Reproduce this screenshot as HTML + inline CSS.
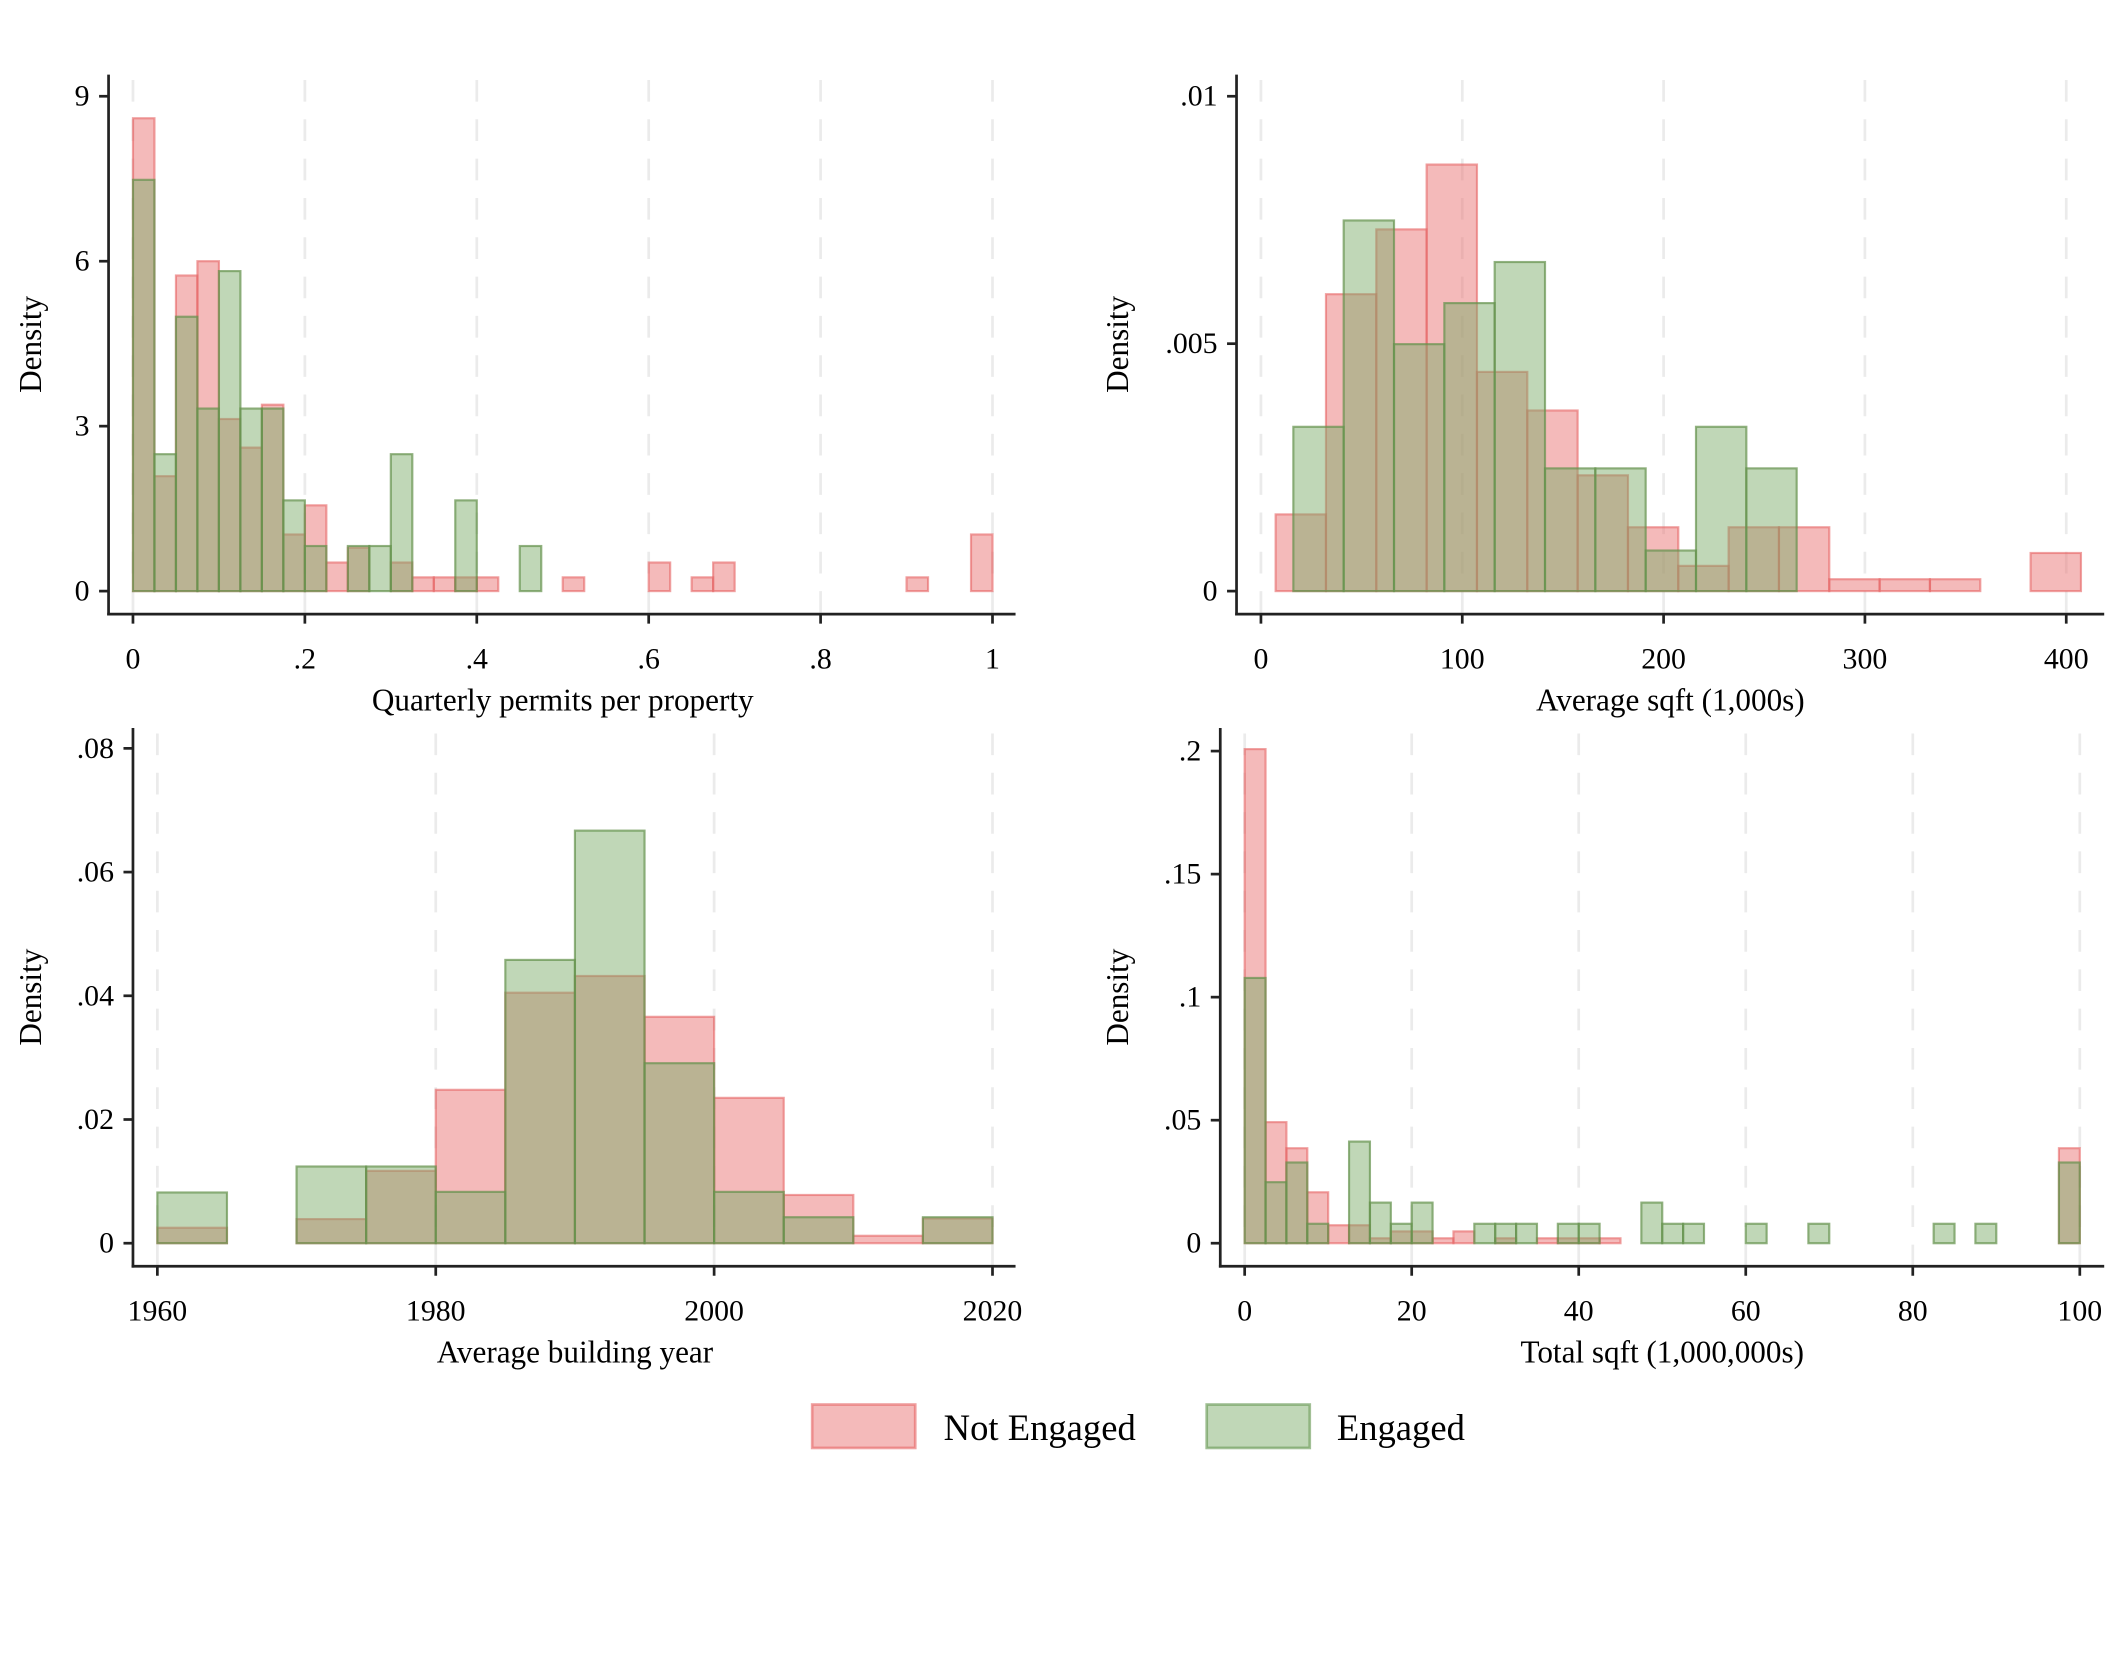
<!DOCTYPE html>
<html><head><meta charset="utf-8"><style>
html,body{margin:0;padding:0;background:#fff;}
svg{display:block;font-family:"Liberation Serif",serif;}
</style></head><body>
<svg id="chart" width="2126" height="1654" viewBox="0 0 1568 1220" xmlns="http://www.w3.org/2000/svg">
<rect x="0" y="0" width="1568" height="1220" fill="#fff"/>
<g>
<rect x="599" y="1036" width="76" height="32" fill="rgba(232,110,110,0.48)" stroke="rgba(230,100,100,0.6)" stroke-width="2"/>
<text x="696" y="1062" font-size="27">Not Engaged</text>
<rect x="890" y="1036" width="76" height="32" fill="rgba(124,172,105,0.48)" stroke="rgba(100,150,80,0.6)" stroke-width="2"/>
<text x="986" y="1062" font-size="27">Engaged</text>
</g>
</svg>
<script>
// Panel 1: Quarterly permits per property (bins start 0, width 0.025)
const p1Red = [8.6,2.09,5.74,6.0,3.13,2.61,3.39,1.03,1.56,0.52,0.79,0,0.52,0.25,0.25,0.25,0.25,0,0,0,0.25,0,0,0,0.52,0,0.25,0.52,0,0,0,0,0,0,0,0,0.25,0,0,1.03];
const p1Green = [7.48,2.49,4.99,3.32,5.82,3.32,3.32,1.65,0.82,0,0.82,0.82,2.49,0,0,1.65,0,0,0.82];
const p1XTicks = [0,0.2,0.4,0.6,0.8,1];
const p1XLabels = ["0",".2",".4",".6",".8","1"];
const p1YTicks = [0,3,6,9];
const p1YLabels = ["0","3","6","9"];
// Panel 2: Average sqft
const p2Red = [0.00155,0.0060,0.00731,0.00862,0.00443,0.00365,0.00234,0.00129,0.00051,0.00129,0.00129,0.00024,0.00024,0.00024,0,0.00077];
const p2Green = [0.00332,0.00749,0.00499,0.00582,0.00665,0.00248,0.00248,0.00082,0.00332,0.00248];
const p2XTicks = [0,100,200,300,400];
const p2XLabels = ["0","100","200","300","400"];
const p2YTicks = [0,0.005,0.01];
const p2YLabels = ["0",".005",".01"];
// Panel 3: Average building year (bins start 1960, width 5)
const p3Red = [0.0025,0,0.0039,0.0117,0.0248,0.0405,0.0432,0.0366,0.0235,0.0078,0.0012,0.004];
const p3Green = [0.0082,0,0.0124,0.0124,0.0083,0.0458,0.0667,0.0291,0.0083,0.0042,0,0.0042];
const p3XTicks = [1960,1980,2000,2020];
const p3XLabels = ["1960","1980","2000","2020"];
const p3YTicks = [0,0.02,0.04,0.06,0.08];
const p3YLabels = ["0",".02",".04",".06",".08"];
// Panel 4: Total sqft (bins start 0, width 2.5)
const p4Red = [0.2008,0.0492,0.0386,0.0207,0.0073,0.0073,0.002,0.0048,0.0048,0.002,0.0048,0,0.002,0,0.002,0.002,0.002,0.002,0,0,0,0,0,0,0,0,0,0,0,0,0,0,0,0,0,0,0,0,0,0.0386];
const p4Green = [0.1078,0.0248,0.0328,0.0079,0,0.0413,0.0165,0.0079,0.0165,0,0,0.0079,0.0079,0.0079,0,0.0079,0.0079,0,0,0.0165,0.0079,0.0079,0,0,0.0079,0,0,0.0079,0,0,0,0,0,0.0079,0,0.0079,0,0,0,0.0328];
const p4XTicks = [0,20,40,60,80,100];
const p4XLabels = ["0","20","40","60","80","100"];
const p4YTicks = [0,0.05,0.1,0.15,0.2];
const p4YLabels = ["0",".05",".1",".15",".2"];

const NS="http://www.w3.org/2000/svg";
const svg=document.getElementById('chart');
function mk(tag,attrs,parent){const e=document.createElementNS(NS,tag);for(const k in attrs)e.setAttribute(k,attrs[k]);parent.appendChild(e);return e;}

function panel(cfg){
  const g=mk('g',{},svg);
  
  
  const sx=v=>cfg.px0+(v-cfg.xv0)*(cfg.px1-cfg.px0)/(cfg.xv1-cfg.xv0);
  const sy=v=>cfg.py0+(v-0)*(cfg.py1-cfg.py0)/(cfg.yv1);
  cfg.xt.forEach((t,i)=>{
    const l=mk('line',{x1:sx(t),x2:sx(t),y1:cfg.top+4,y2:cfg.axisY,stroke:'#ebebeb','stroke-width':2,'stroke-dasharray':'16,13'},g);
    
    
  });
  function series(vals,start,w,fill,stroke,nm){
    vals.forEach((v,i)=>{
      if(v<=0)return;
      const x0=sx(start+i*w),x1=sx(start+(i+1)*w);
      const r=mk('rect',{x:x0,y:sy(v),width:x1-x0,height:sy(0)-sy(v),fill:fill,stroke:stroke,'stroke-width':1.6},g);
      
      
    });
  }
  series(cfg.red,cfg.rs,cfg.w,'rgba(232,110,110,0.48)','rgba(230,100,100,0.6)','not-engaged');
  series(cfg.green,cfg.gs,cfg.w,'rgba(124,172,105,0.48)','rgba(100,145,75,0.7)','engaged');
  const ya=mk('line',{x1:cfg.axisX,x2:cfg.axisX,y1:cfg.top,y2:cfg.axisY+1,stroke:'#222','stroke-width':2},g);
  
  
  const xa=mk('line',{x1:cfg.axisX-1,x2:cfg.right,y1:cfg.axisY,y2:cfg.axisY,stroke:'#222','stroke-width':2},g);
  
  
  cfg.xt.forEach((t,i)=>{
    mk('line',{x1:sx(t),x2:sx(t),y1:cfg.axisY,y2:cfg.axisY+7,stroke:'#222','stroke-width':2},g);
    const tx=mk('text',{x:sx(t),y:cfg.axisY+40,'font-size':22,'text-anchor':'middle'},g);
    tx.textContent=cfg.xl[i];
    
    
  });
  cfg.yt.forEach((t,i)=>{
    mk('line',{x1:cfg.axisX-7,x2:cfg.axisX,y1:sy(t),y2:sy(t),stroke:'#222','stroke-width':2},g);
    const tx=mk('text',{x:cfg.axisX-14,y:sy(t)+7,'font-size':22,'text-anchor':'end'},g);
    tx.textContent=cfg.yl[i];
    
    
  });
  const xt=mk('text',{x:cfg.xtitleX,y:cfg.axisY+71,'font-size':23,'text-anchor':'middle'},g);
  xt.textContent=cfg.xtitle;
  
  
  const cy=(cfg.top+cfg.axisY)/2;
  const yt=mk('text',{x:cfg.ytitleX,y:cy,'font-size':23,'text-anchor':'middle',transform:`rotate(-90 ${cfg.ytitleX} ${cy})`},g);
  yt.textContent='Density';
  
  
}

panel({name:'panel-permits',px0:98,px1:732,xv0:0,xv1:1,py0:436,py1:71,yv1:9,top:55,axisY:453,axisX:80,right:749,
  red:p1Red,green:p1Green,rs:0,gs:0,w:0.025,xt:p1XTicks,xl:p1XLabels,yt:p1YTicks,yl:p1YLabels,
  xtitle:'Quarterly permits per property',xtitleX:415,ytitleX:30});
panel({name:'panel-avg-sqft',px0:930,px1:1524,xv0:0,xv1:400,py0:436,py1:71,yv1:0.01,top:55,axisY:453,axisX:912,right:1552,
  red:p2Red,green:p2Green,rs:7.3,gs:16.1,w:25,xt:p2XTicks,xl:p2XLabels,yt:p2YTicks,yl:p2YLabels,
  xtitle:'Average sqft (1,000s)',xtitleX:1232,ytitleX:832});
panel({name:'panel-building-year',px0:116,px1:732,xv0:1960,xv1:2020,py0:917,py1:552,yv1:0.08,top:537,axisY:934,axisX:98,right:749,
  red:p3Red,green:p3Green,rs:1960,gs:1960,w:5,xt:p3XTicks,xl:p3XLabels,yt:p3YTicks,yl:p3YLabels,
  xtitle:'Average building year',xtitleX:424,ytitleX:30});
panel({name:'panel-total-sqft',px0:918,px1:1534,xv0:0,xv1:100,py0:917,py1:554,yv1:0.2,top:537,axisY:934,axisX:900,right:1552,
  red:p4Red,green:p4Green,rs:0,gs:0,w:2.5,xt:p4XTicks,xl:p4XLabels,yt:p4YTicks,yl:p4YLabels,
  xtitle:'Total sqft (1,000,000s)',xtitleX:1226,ytitleX:832});
</script>
</body></html>
